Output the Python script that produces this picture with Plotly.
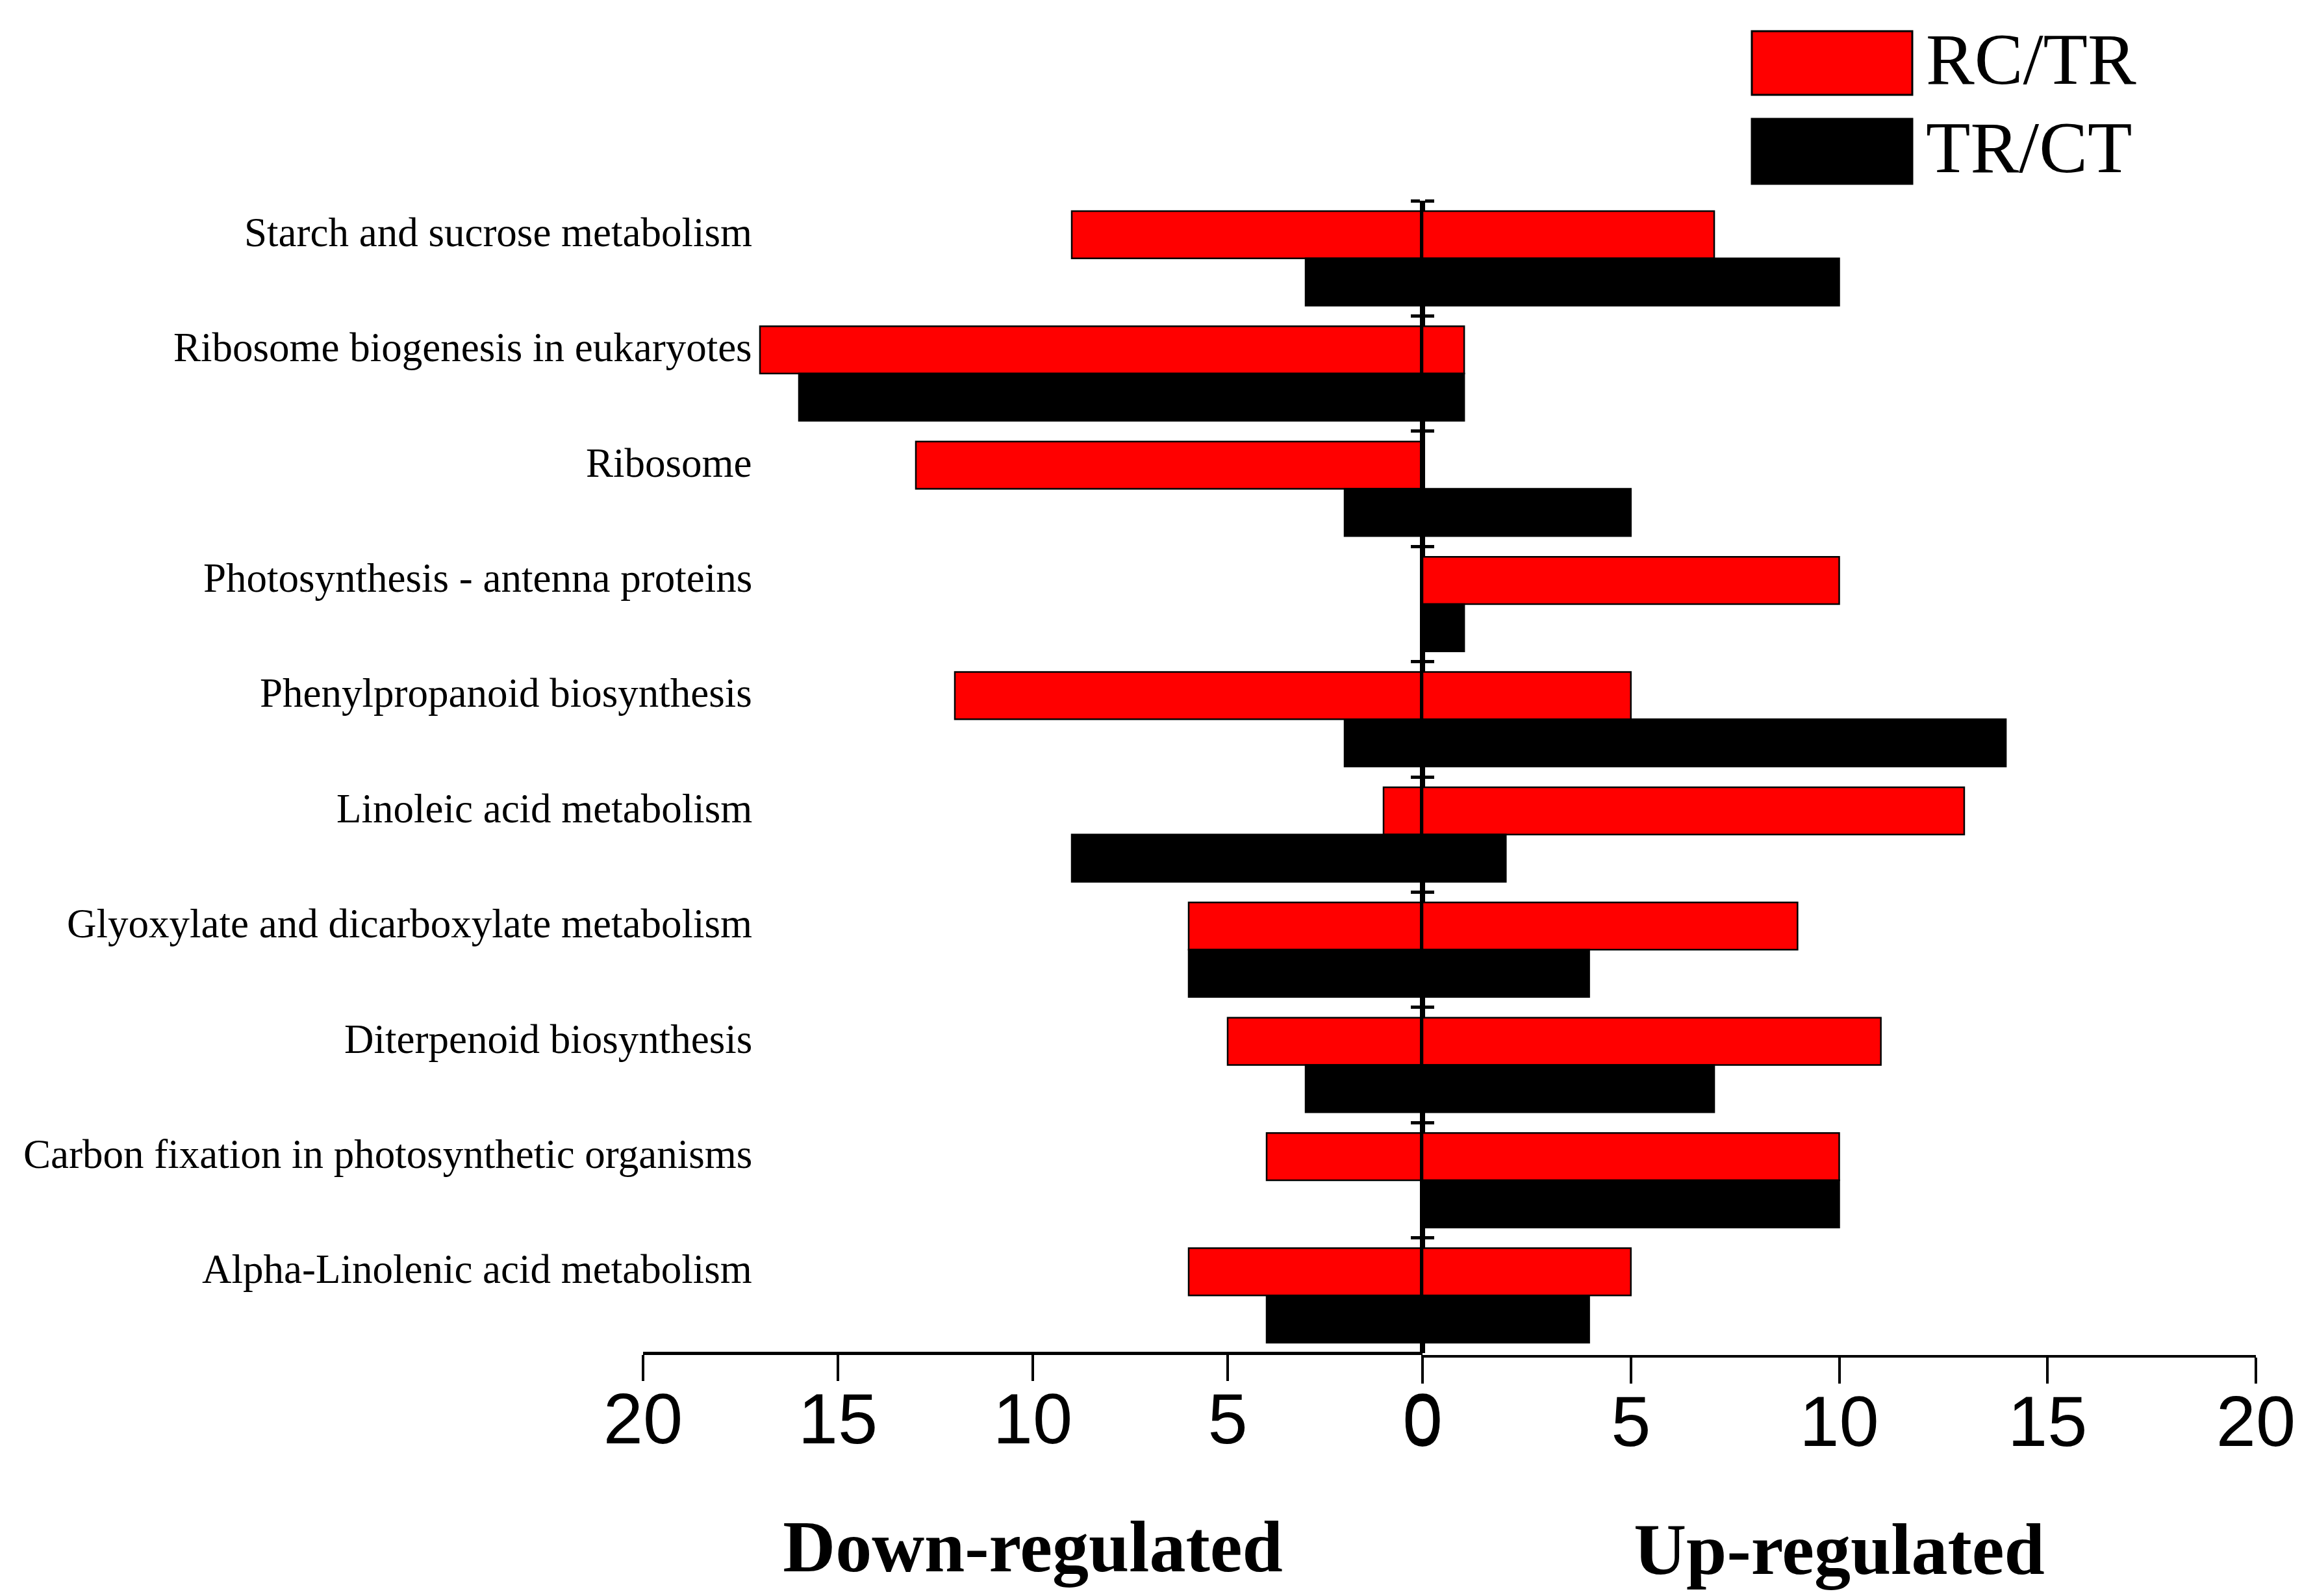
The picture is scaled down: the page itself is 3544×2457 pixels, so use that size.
import plotly.graph_objects as go

categories = [
    "Starch and sucrose metabolism",
    "Ribosome biogenesis in eukaryotes",
    "Ribosome",
    "Photosynthesis - antenna proteins",
    "Phenylpropanoid biosynthesis",
    "Linoleic acid metabolism",
    "Glyoxylate and dicarboxylate metabolism",
    "Diterpenoid biosynthesis",
    "Carbon fixation in photosynthetic organisms",
    "Alpha-Linolenic acid metabolism",
]
series_names = ["RC/TR", "TR/CT"]
rc_tr_down = [9, 17, 13, 0, 12, 1, 6, 5, 4, 6]
rc_tr_up = [7, 1, 0, 10, 5, 13, 9, 11, 10, 5]
tr_ct_down = [3, 16, 2, 0, 2, 9, 6, 3, 0, 4]
tr_ct_up = [10, 1, 5, 1, 14, 2, 4, 7, 10, 4]
tick_vals = [0, 5, 10, 15, 20]
axis_titles = ["Down-regulated", "Up-regulated"]

colors = ["#FF0000", "#000000"]
SERIF = "Liberation Serif, Times New Roman, serif"
SANS = "Liberation Sans, Arial, sans-serif"

W, H = 3544, 2457
ML, MR, MT, MB = 982, 79, 301, 377
PW, PH = W - ML - MR, H - MT - MB
ZERO_X = 2182
split = (ZERO_X - ML) / PW
LEFT_RAISE = 5 / PH


def px_x(X):
    return (X - ML) / PW


def px_y(Y):
    return (H - MB - Y) / PH


fig = go.Figure()
down_vals = [rc_tr_down, tr_ct_down]
up_vals = [rc_tr_up, tr_ct_up]
for i in range(2):
    fig.add_trace(go.Bar(
        y=categories, x=down_vals[i], orientation="h", name=series_names[i],
        marker=dict(color=colors[i], line=dict(color="#000000", width=2.5)),
        xaxis="x", yaxis="y", showlegend=False,
    ))
for i in range(2):
    fig.add_trace(go.Bar(
        y=categories, x=up_vals[i], orientation="h", name=series_names[i],
        marker=dict(color=colors[i], line=dict(color="#000000", width=2.5)),
        xaxis="x2", yaxis="y2", showlegend=False,
    ))

xcommon = dict(
    tickmode="array", tickvals=tick_vals, ticktext=[str(v) for v in tick_vals],
    ticks="outside", ticklen=40, tickwidth=4, tickcolor="#000000",
    ticklabelstandoff=-36,
    showline=True, linecolor="#000000", showgrid=False, zeroline=False,
    tickfont=dict(family=SANS, size=110, color="#000000"),
    anchor="free",
)
ycommon = dict(
    type="category", categoryorder="array", categoryarray=categories,
    range=[len(categories) - 0.5, -0.5],
    showticklabels=False, ticks="outside", tickson="boundaries",
    ticklen=14, tickwidth=5, tickcolor="#000000",
    showline=True, linecolor="#000000", linewidth=4,
    showgrid=False, zeroline=False, domain=[LEFT_RAISE, 1],
)

fig.update_layout(
    width=W, height=H,
    margin=dict(l=ML, r=MR, t=MT, b=MB, autoexpand=False),
    paper_bgcolor="white", plot_bgcolor="white",
    barmode="group", bargap=0.18, bargroupgap=0,
    xaxis=dict(domain=[0, split], range=[20, 0], position=LEFT_RAISE, linewidth=5,
               title=dict(text=axis_titles[0], standoff=96,
                          font=dict(family=SERIF, size=112, color="#000000", weight="bold")),
               **xcommon),
    xaxis2=dict(domain=[split, 1], range=[0, 20], position=0.0, linewidth=4,
                title=dict(text=axis_titles[1], standoff=96,
                           font=dict(family=SERIF, size=112, color="#000000", weight="bold")),
                **xcommon),
    yaxis=dict(anchor="x", side="right", **ycommon),
    yaxis2=dict(anchor="x2", side="left", matches="y", **ycommon),
)

# category labels (aligned with the upper bar of each pair)
for c in categories:
    fig.add_annotation(
        x=px_x(1152), xref="paper", y=c, yref="y", yshift=40,
        text=c, showarrow=False, xanchor="right", yanchor="middle",
        font=dict(family=SERIF, size=63, color="#000000"),
    )

# legend drawn as swatches + labels
legend_boxes = [(40, 138), (175, 275)]
for i in range(2):
    top, bot = legend_boxes[i]
    fig.add_shape(
        type="rect", xref="paper", yref="paper",
        x0=px_x(2689), x1=px_x(2936), y0=px_y(bot), y1=px_y(top),
        fillcolor=colors[i], line=dict(color="#000000", width=3),
    )
    fig.add_annotation(
        x=px_x(2955), xref="paper", y=px_y((top + bot) / 2 - 6), yref="paper",
        text=series_names[i], showarrow=False, xanchor="left", yanchor="middle",
        font=dict(family=SERIF, size=112, color="#000000"),
    )

fig.write_html("out.html")
